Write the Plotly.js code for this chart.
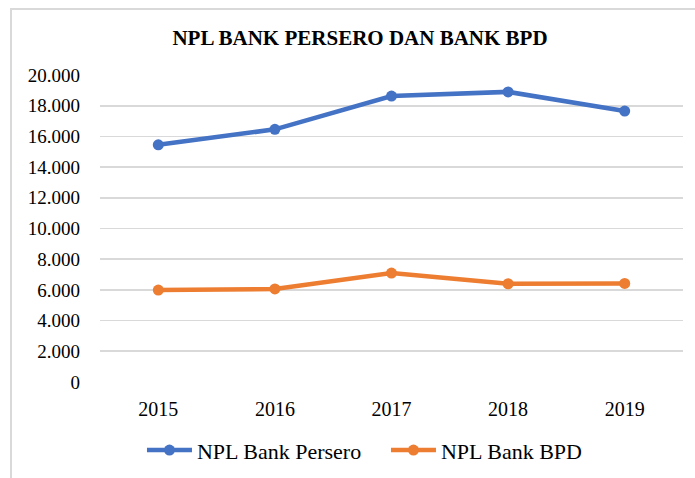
<!DOCTYPE html>
<html>
<head>
<meta charset="utf-8">
<script src="https://cdn.plot.ly/plotly-3.0.1.min.js"></script>
<style>
html,body{margin:0;padding:0;background:#fff;}
#frame{position:absolute;left:10px;top:8px;width:700px;height:480px;border-top:2px solid #d9d9d9;border-left:2px solid #d9d9d9;}
#chart{position:absolute;left:0;top:0;width:695px;height:478px;}
</style>
</head>
<body>
<div id="frame"></div>
<div id="chart"></div>
<script>
var years = ["2015", "2016", "2017", "2018", "2019"];
var persero = [15450, 16460, 18630, 18900, 17650];
var bpd = [5990, 6060, 7100, 6400, 6420];
var seriesNames = ["NPL Bank Persero", "NPL Bank BPD"];
var tickVals = [0, 2000, 4000, 6000, 8000, 10000, 12000, 14000, 16000, 18000, 20000];
var tickText = ["0", "2.000", "4.000", "6.000", "8.000", "10.000", "12.000", "14.000", "16.000", "18.000", "20.000"];

var font = "Liberation Serif";
var traces = [
  {x: years, y: persero, name: seriesNames[0], type: "scatter", mode: "lines+markers",
   line: {color: "#4472C4", width: 4.5}, marker: {color: "#4472C4", size: 11}},
  {x: years, y: bpd, name: seriesNames[1], type: "scatter", mode: "lines+markers",
   line: {color: "#ED7D31", width: 4.5}, marker: {color: "#ED7D31", size: 11}}
];
var layout = {
  width: 695, height: 478,
  margin: {l: 100, r: 12, t: 75, b: 96},
  paper_bgcolor: "rgba(0,0,0,0)", plot_bgcolor: "rgba(0,0,0,0)",
  font: {family: font, size: 19, color: "#000"},
  title: {text: "<b>NPL BANK PERSERO DAN BANK BPD</b>", x: 0.518, xanchor: "center", y: 0.922, yanchor: "middle",
          font: {family: font, size: 21, color: "#000"}},
  xaxis: {type: "category", range: [-0.5, 4.5], showgrid: false, zeroline: false, showline: false,
          ticks: "", tickfont: {family: font, size: 20}, ticklabelstandoff: 13, automargin: false},
  yaxis: {range: [0, 20000], tickvals: tickVals, ticktext: tickText, showgrid: true,
          gridcolor: "#d9d9d9", gridwidth: 1.6, zeroline: false, showline: false, ticks: "",
          ticklen: 0, tickfont: {family: font, size: 19}, ticklabelstandoff: 19, automargin: false},
  showlegend: true,
  legend: {orientation: "h", x: 0.072, xanchor: "left", yref: "container", y: 0.058, yanchor: "middle",
           font: {family: font, size: 22}, itemwidth: 45, entrywidth: 184, entrywidthmode: "pixels",
           traceorder: "normal"}
};
Plotly.newPlot("chart", traces, layout, {displayModeBar: false, staticPlot: true});
</script>
</body>
</html>
